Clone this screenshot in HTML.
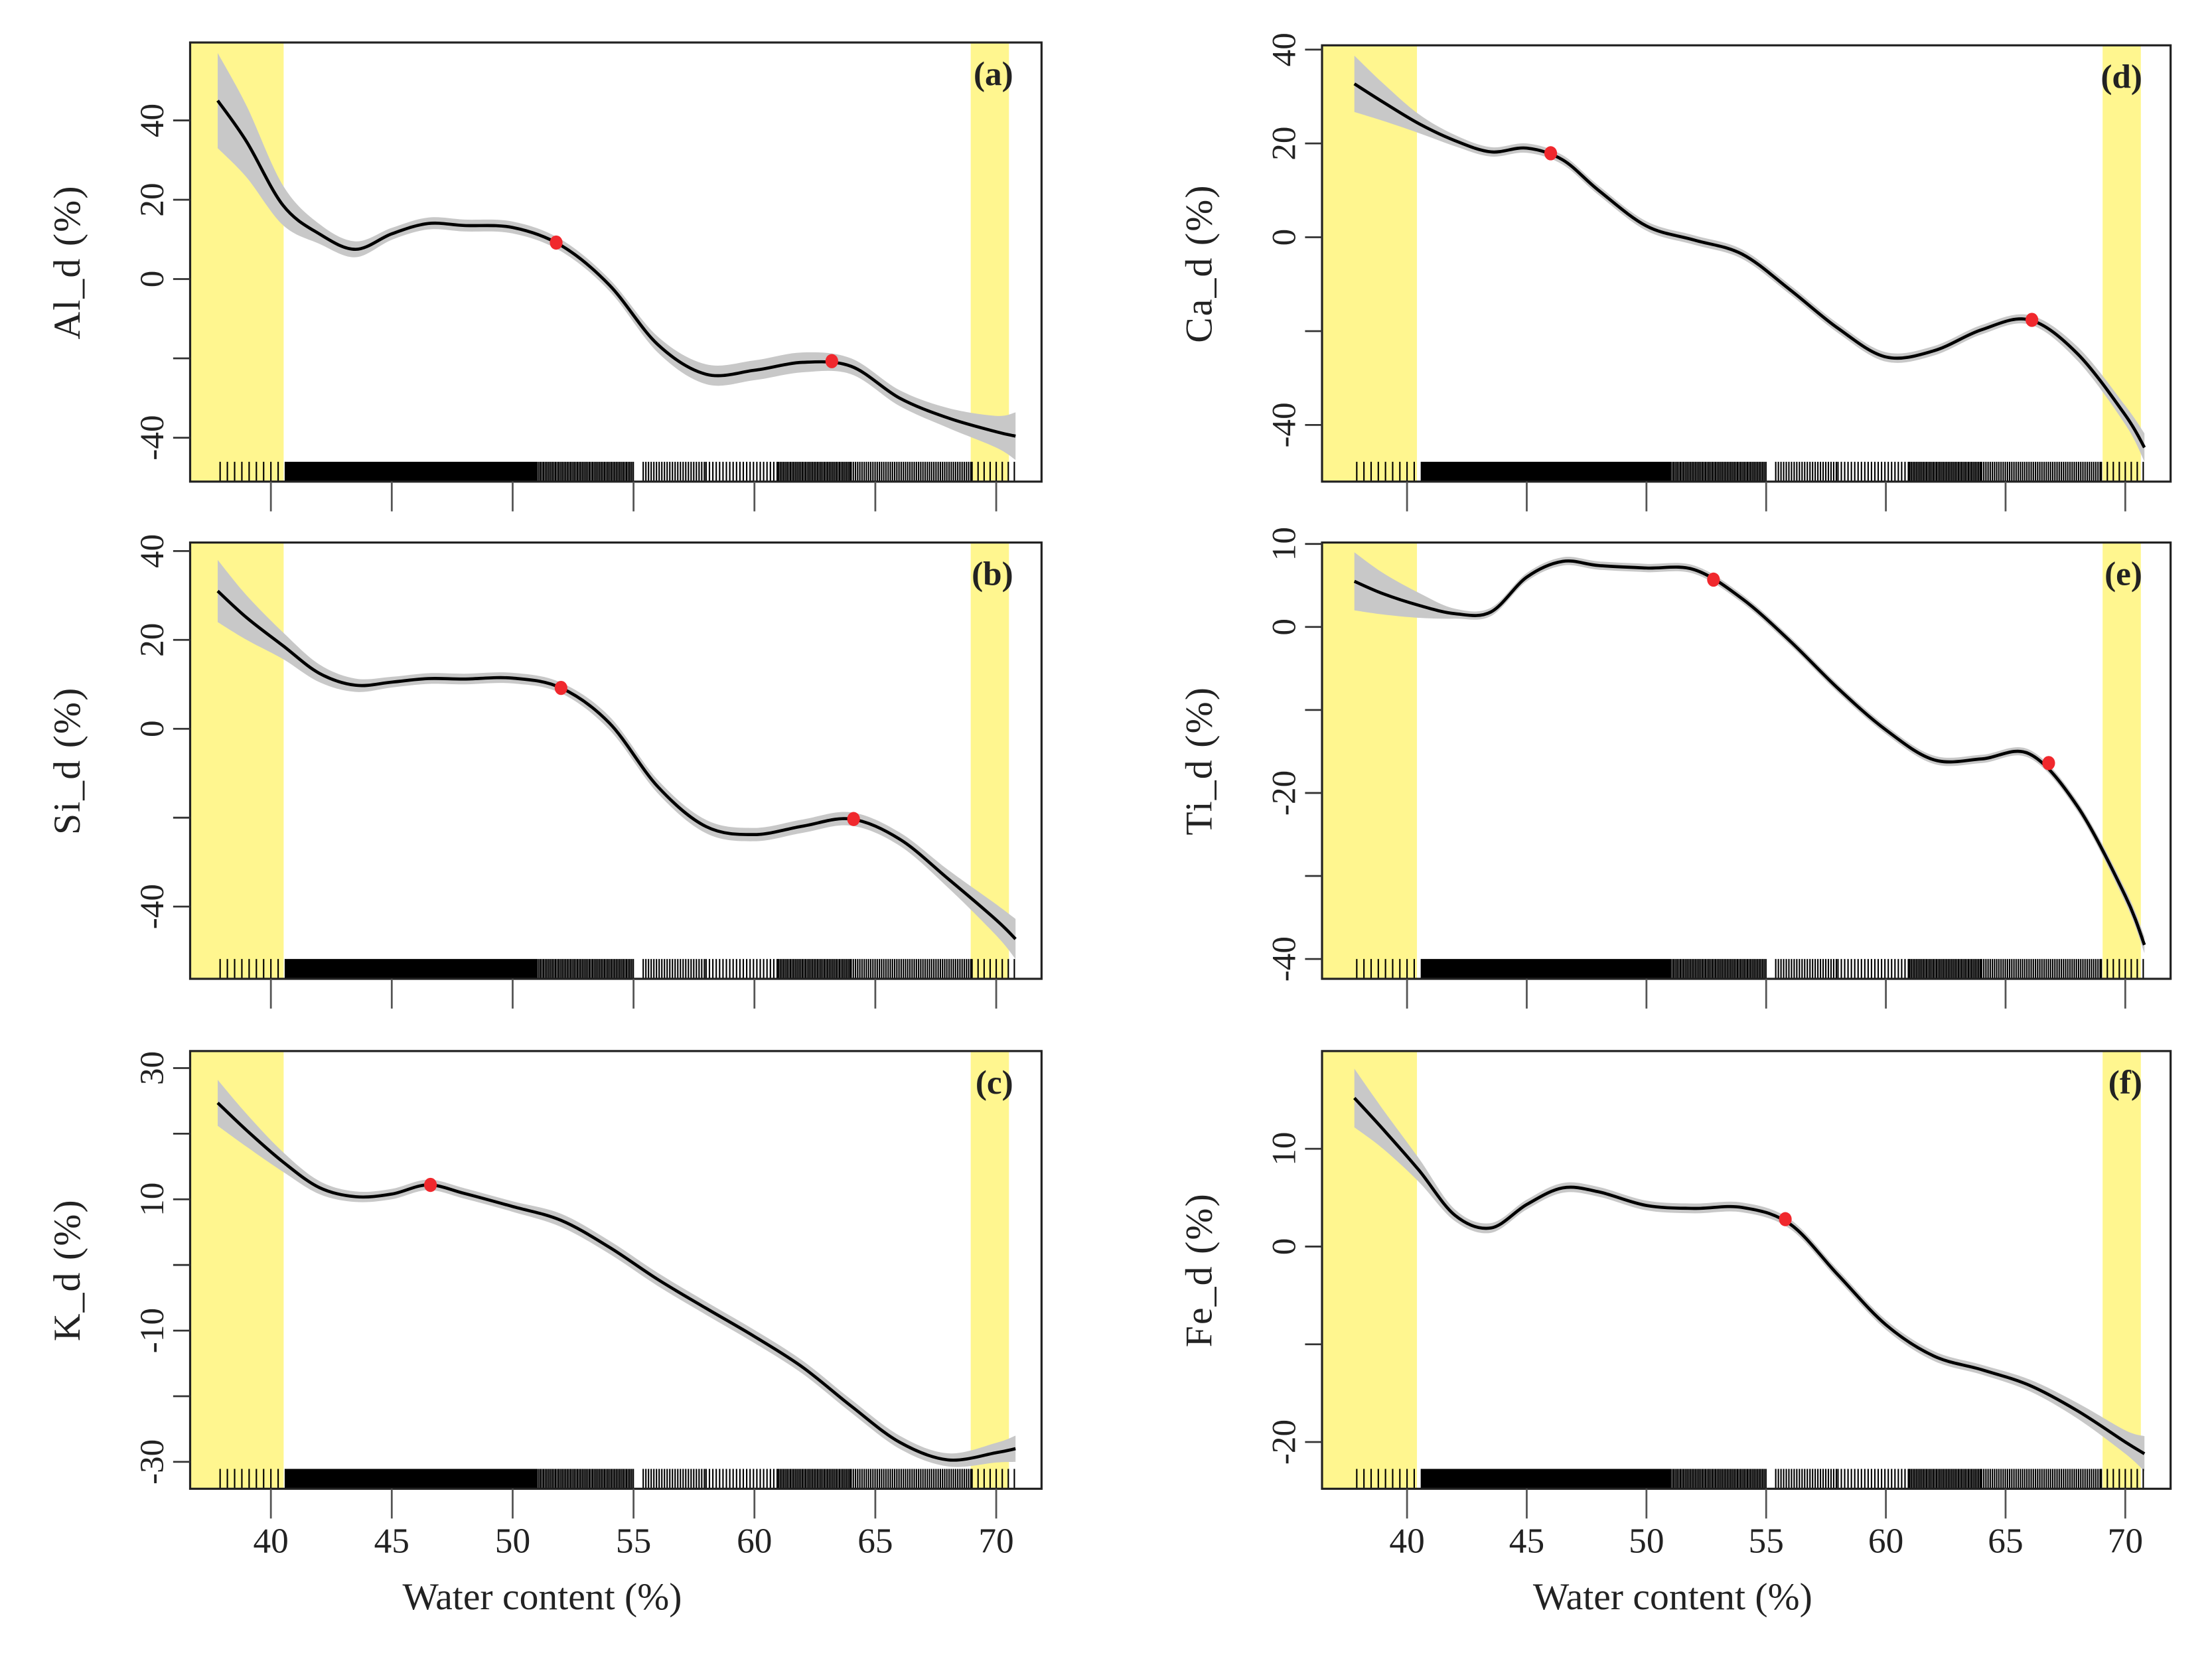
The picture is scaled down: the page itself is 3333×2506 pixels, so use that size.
<!DOCTYPE html>
<html><head><meta charset="utf-8"><style>
html,body{margin:0;padding:0;background:#fff}
svg{display:block}
text{font-family:"Liberation Serif",serif;fill:#222}
</style></head><body>
<svg id="fig" width="3333" height="2506" viewBox="0 0 1561 1174" xmlns="http://www.w3.org/2000/svg"></svg>
<script>
// ---- data ----
const xs = [37.8,39,40.5,42,43.5,45,46.5,48,50,52,54,56,58,60,62,64,66,68,70,70.8];
const alVals = [45,34.6,18.6,11.4,7.5,11.4,14,13.5,13,8.5,-1.5,-16.5,-24,-23,-21,-22,-30,-35,-38.5,-39.6];
const alSe = [12,9,5,2.5,2,1.5,1.5,1.5,1.5,1.5,1.5,2,2.5,2.5,2.5,2,2,2.5,4,6];
const siVals = [31,25,18.7,12.5,9.8,10.5,11.3,11.2,11.4,9.2,1.3,-13,-22,-23.8,-21.9,-20.3,-24.8,-33.7,-43,-47.3];
const siSe = [7,5,3,2,1.5,1.2,1.2,1.2,1.2,1.2,1.5,1.5,1.5,1.5,1.5,1.5,1.5,2,3.5,4.5];
const kVals = [24.7,20.5,15.7,11.8,10.4,10.8,12.2,10.9,8.9,6.8,2.7,-2.2,-6.6,-10.9,-15.6,-21.5,-27,-29.7,-28.6,-28];
const kSe = [3.5,2.5,1.5,1,0.8,0.8,0.8,0.8,0.8,1,1,1,1,1,1,1,1,1,1.5,2];
const caVals = [32.7,28.8,24.2,20.6,18.2,19,16.5,10,2.4,-0.6,-3.6,-11.2,-19.4,-25.5,-24.2,-19.7,-17.6,-24.8,-37.9,-44.8];
const caSe = [6,4,2,1.2,1,1,1,1,1,1,1,1,1,1,1,1,1,1.5,2,3];
const tiVals = [5.5,4,2.6,1.6,1.8,6,7.9,7.4,7.1,6.9,3.4,-1.7,-7.4,-12.4,-16,-15.9,-15.3,-21.6,-32.4,-38.3];
const tiSe = [3.5,2.5,1.5,0.6,0.5,0.5,0.5,0.5,0.5,0.5,0.5,0.5,0.5,0.5,0.5,0.5,0.5,0.6,0.8,1];
const feVals = [15.2,12,7.8,3.2,1.9,4.3,6,5.6,4.2,3.9,4,2.3,-2.9,-8,-11.2,-12.6,-14.2,-16.8,-20,-21.2];
const feSe = [3,2,1.2,0.6,0.5,0.5,0.5,0.5,0.5,0.5,0.5,0.5,0.5,0.5,0.5,0.5,0.6,0.8,1.2,1.8];
const alPts = [[51.8,9.2],[63.2,-20.7]];
const siPts = [[52,9.2],[64.1,-20.3]];
const kPts = [[46.6,12.2]];
const caPts = [[46,17.9],[66.1,-17.6]];
const tiPts = [[52.8,5.7],[66.8,-16.4]];
const fePts = [[55.8,2.8]];
const xTicks = [40,45,50,55,60,65,70];
const rugSegs = [[37.9,40.5,0.3],[40.6,51,0.035],[51,55,0.07],[55.4,58,0.11],[58,61,0.14],[61,64,0.07],[64,69,0.09],[69,70.8,0.25]];

const NS='http://www.w3.org/2000/svg';
const svg=document.getElementById('fig');
function mk(tag,attrs,parent){const e=document.createElementNS(NS,tag);for(const k in attrs)e.setAttribute(k,attrs[k]);(parent||svg).appendChild(e);return e;}
function crPath(p){let d='M'+p[0][0].toFixed(2)+','+p[0][1].toFixed(2);
 for(let i=0;i<p.length-1;i++){const p0=p[i-1]||p[i],p1=p[i],p2=p[i+1],p3=p[i+2]||p2;
  const c1=[p1[0]+(p2[0]-p0[0])/6,p1[1]+(p2[1]-p0[1])/6],c2=[p2[0]-(p3[0]-p1[0])/6,p2[1]-(p3[1]-p1[1])/6];
  d+='C'+c1[0].toFixed(2)+','+c1[1].toFixed(2)+' '+c2[0].toFixed(2)+','+c2[1].toFixed(2)+' '+p2[0].toFixed(2)+','+p2[1].toFixed(2);}
 return d;}

const panels=[
 {id:'a',title:'Al_d (%)',vals:alVals,se:alSe,pts:alPts,L:134,R:735,T:30,B:340,x40:191,x70:703,v1:40,y1:85,v2:-40,y2:309,ticks:[40,20,0,-20,-40],labels:[40,20,0,-40],xl:false,yb:[685,712],yl:[134,200]},
 {id:'b',title:'Si_d (%)',vals:siVals,se:siSe,pts:siPts,L:134,R:735,T:383,B:691,x40:191,x70:703,v1:40,y1:389,v2:-40,y2:640,ticks:[40,20,0,-20,-40],labels:[40,20,0,-40],xl:false,yb:[685,712],yl:[134,200]},
 {id:'c',title:'K_d (%)',vals:kVals,se:kSe,pts:kPts,L:134,R:735,T:742,B:1051,x40:191,x70:703,v1:30,y1:754,v2:-30,y2:1032,ticks:[30,20,10,0,-10,-20,-30],labels:[30,10,-10,-30],xl:true,yb:[685,712],yl:[134,200]},
 {id:'d',title:'Ca_d (%)',vals:caVals,se:caSe,pts:caPts,L:933,R:1532,T:32,B:340,x40:993,x70:1500,v1:40,y1:35,v2:-40,y2:300,ticks:[40,20,0,-20,-40],labels:[40,20,0,-40],xl:false,yb:[1484,1511],yl:[933,1000]},
 {id:'e',title:'Ti_d (%)',vals:tiVals,se:tiSe,pts:tiPts,L:933,R:1532,T:383,B:691,x40:993,x70:1500,v1:10,y1:384,v2:-40,y2:677,ticks:[10,0,-10,-20,-30,-40],labels:[10,0,-20,-40],xl:false,yb:[1484,1511],yl:[933,1000]},
 {id:'f',title:'Fe_d (%)',vals:feVals,se:feSe,pts:fePts,L:933,R:1532,T:742,B:1051,x40:993,x70:1500,v1:10,y1:811,v2:-20,y2:1018,ticks:[10,0,-10,-20],labels:[10,0,-20],xl:true,yb:[1484,1511],yl:[933,1000]}
];

panels.forEach(p=>{
 const g=mk('g',{});
 
 
 const X=v=>p.x40+(v-40)*(p.x70-p.x40)/30;
 const Y=v=>p.y1+(v-p.v1)*(p.y2-p.y1)/(p.v2-p.v1);
 const cp=mk('clipPath',{id:'clip'+p.id},g);
 mk('rect',{x:p.L,y:p.T,width:p.R-p.L,height:p.B-p.T},cp);
 const yl=mk('rect',{x:p.yl[0],y:p.T,width:p.yl[1]-p.yl[0],height:p.B-p.T,fill:'#fff68f'},g);
 
 
 const yr=mk('rect',{x:p.yb[0],y:p.T,width:p.yb[1]-p.yb[0],height:p.B-p.T,fill:'#fff68f'},g);
 
 
 const cg=mk('g',{'clip-path':'url(#clip'+p.id+')'},g);
 const up=xs.map((x,i)=>[X(x),Y(p.vals[i]+p.se[i])]);
 const lo=xs.map((x,i)=>[X(x),Y(p.vals[i]-p.se[i])]).reverse();
 const loD=crPath(lo);
 const bandD=crPath(up)+'L'+lo[0][0]+','+lo[0][1]+loD.slice(loD.indexOf('C'))+'Z';
 const band=mk('path',{d:bandD,fill:'#c8c8c8'},cg);
 
 
 const line=mk('path',{d:crPath(xs.map((x,i)=>[X(x),Y(p.vals[i])])),fill:'none',stroke:'#000','stroke-width':2.2},cg);
 
 
 // rug
 let rd='';
 rugSegs.forEach(s=>{for(let v=s[0];v<=s[1];v+=s[2]){const xx=X(v);rd+='M'+xx.toFixed(2)+','+(p.B-14)+'V'+p.B;}});
 const rug=mk('path',{d:rd,stroke:'#000','stroke-width':1},cg);
 
 
 p.pts.forEach(pt=>{
  const c=mk('ellipse',{cx:X(pt[0]),cy:Y(pt[1]),rx:4.5,ry:5,fill:'#f0282d'},g);
  
  
 });
 const fr=mk('rect',{x:p.L,y:p.T,width:p.R-p.L,height:p.B-p.T,fill:'none',stroke:'#222','stroke-width':1.5},g);
 
 
 p.ticks.forEach(t=>{
  mk('line',{x1:p.L-12,x2:p.L,y1:Y(t),y2:Y(t),stroke:'#333','stroke-width':1.3},g);
 });
 p.labels.forEach(t=>{
  const tx=mk('text',{x:0,y:0,'font-size':24,'text-anchor':'middle',fill:'#333',transform:'translate('+(p.L-19)+','+Y(t)+') rotate(-90)'},g);
  tx.textContent=String(t);
  
  
 });
 const yt=mk('text',{x:0,y:0,'font-size':27,'text-anchor':'middle',fill:'#333',transform:'translate('+(p.L-78)+','+((p.T+p.B)/2)+') rotate(-90)','letter-spacing':1},g);
 yt.textContent=p.title;
 
 
 xTicks.forEach(t=>{
  mk('line',{x1:X(t),x2:X(t),y1:p.B,y2:p.B+21,stroke:'#555','stroke-width':1.3},g);
  if(p.xl){const tx=mk('text',{x:X(t),y:p.B+45,'font-size':25,'text-anchor':'middle',fill:'#333'},g);
   tx.textContent=t;
   
   }
 });
 if(p.xl){const xt=mk('text',{x:(p.L+p.R)/2-52,y:p.B+85,'font-size':27,'text-anchor':'middle',fill:'#333'},g);
  xt.textContent='Water content (%)';
  
  }
 const pl=mk('text',{x:p.R-20,y:p.T+30,'font-size':24,'font-weight':'bold','text-anchor':'end'},g);
 pl.textContent='('+p.id+')';
 
 
});
</script>
</body></html>
